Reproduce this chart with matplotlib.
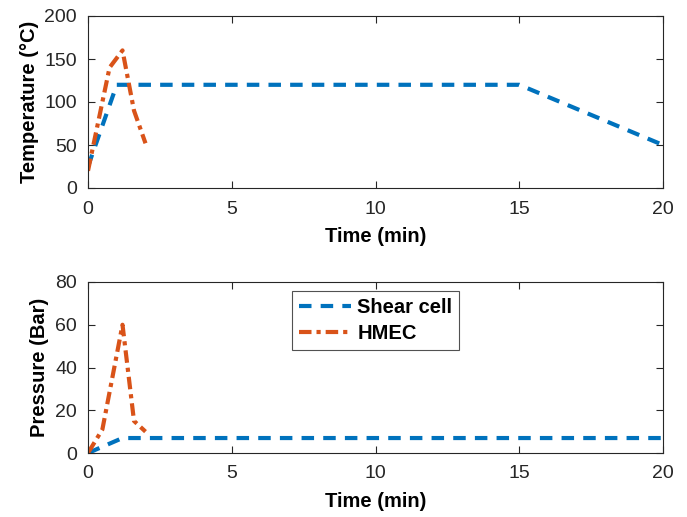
import matplotlib
matplotlib.use("Agg")
import matplotlib.pyplot as plt

plt.rcParams['font.family'] = ['Liberation Sans', 'DejaVu Sans']

# Temperature panel
shear_t_time = [0, 1, 15, 20]
shear_t_temp = [25, 120, 120, 50]
hmec_t_time = [0, 0.75, 1.2, 1.6, 2.0]
hmec_t_temp = [20, 140, 160, 90, 52]

# Pressure panel
shear_p_time = [0, 1.2, 20]
shear_p_pres = [0, 7, 7]
hmec_p_time = [0, 0.5, 1.2, 1.6, 2.0]
hmec_p_pres = [0, 11, 60, 15, 10]

xticks = [0, 5, 10, 15, 20]
t_yticks = [0, 50, 100, 150, 200]
p_yticks = [0, 20, 40, 60, 80]

blue = '#0072BD'
orange = '#D95319'

fig = plt.figure(figsize=(6.87, 5.17), dpi=100)
W, H = 687, 517
ax1 = fig.add_axes([88 / W, 1 - 188 / H, (663 - 88) / W, (188 - 16) / H])
ax2 = fig.add_axes([88 / W, 1 - 453 / H, (663 - 88) / W, (453 - 282) / H])

for ax in (ax1, ax2):
    ax.set_xlim(0, 20)
    ax.set_xticks(xticks)
    ax.tick_params(direction='in', labelsize=14, length=5, color='#262626',
                   top=True, right=True, labelcolor='#262626')
    ax.tick_params(axis='x', pad=9)
    ax.tick_params(axis='y', pad=8)
    for s in ax.spines.values():
        s.set_color('#262626')
        s.set_linewidth(0.8)
    ax.set_xlabel('Time (min)', fontsize=14.5, fontweight='bold', labelpad=7)

ax1.plot(shear_t_time, shear_t_temp, color=blue, lw=3, ls=(0, (3, 2.2)), label='Shear cell')
ax1.plot(hmec_t_time, hmec_t_temp, color=orange, lw=3, ls=(0, (3, 1.2, 1, 1.2)), label='HMEC')
ax1.set_ylim(0, 200)
ax1.set_yticks(t_yticks)
ax1.set_ylabel('Temperature (°C)', fontsize=14.5, fontweight='bold', labelpad=4)

ax2.plot(shear_p_time, shear_p_pres, color=blue, lw=3, ls=(0, (3, 2.2)), label='Shear cell')
ax2.plot(hmec_p_time, hmec_p_pres, color=orange, lw=3, ls=(0, (3, 1.2, 1, 1.2)), label='HMEC')
ax2.set_ylim(0, 80)
ax2.set_yticks(p_yticks)
ax2.set_ylabel('Pressure (Bar)', fontsize=14.5, fontweight='bold', labelpad=4)

leg = ax2.legend(loc='upper center', bbox_to_anchor=(0.5, 0.95), borderaxespad=0,
                 prop={'weight': 'bold', 'size': 14.5}, fancybox=False, edgecolor='#262626',
                 handlelength=2.6, handletextpad=0.3, borderpad=0.35, labelspacing=0.35)
leg.get_frame().set_linewidth(0.8)

fig.savefig('out.png', dpi=100)
